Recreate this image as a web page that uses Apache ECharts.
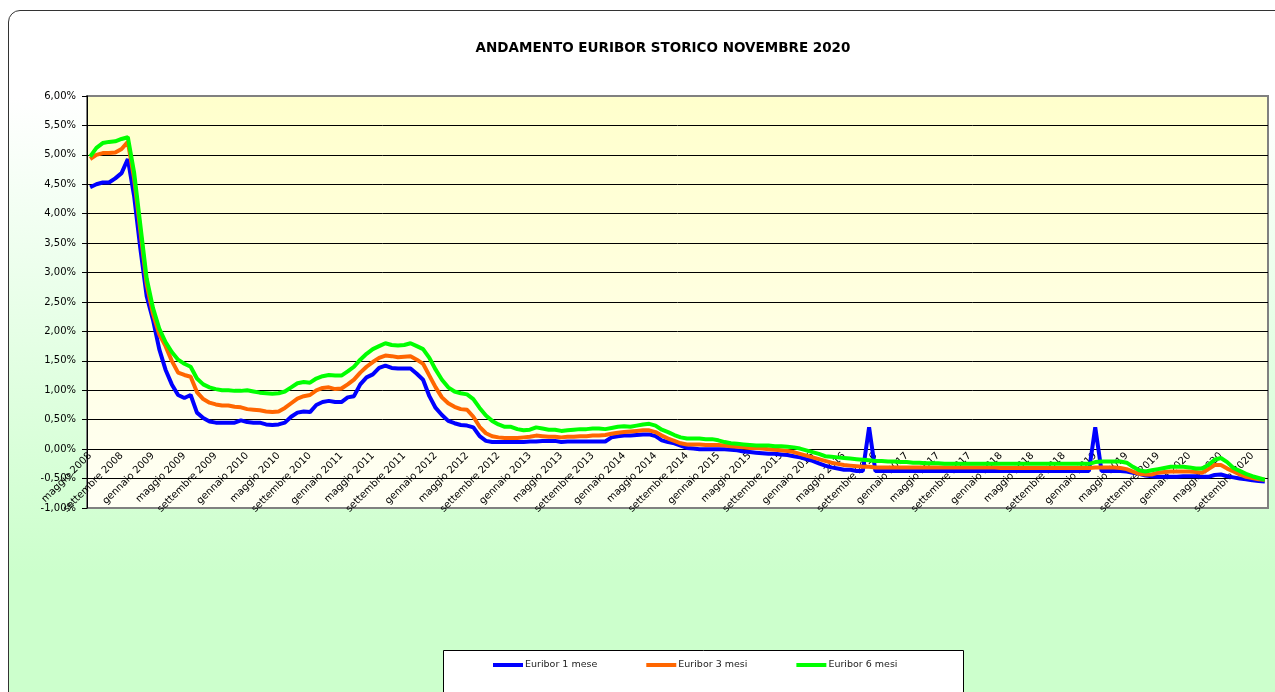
<!DOCTYPE html>
<html>
<head>
<meta charset="utf-8">
<title>Andamento Euribor storico</title>
<script src="https://cdn.jsdelivr.net/npm/echarts@6/dist/echarts.min.js"></script>
<style>
    html, body { margin: 0; padding: 0; width: 1275px; height: 692px; overflow: hidden; background: #ffffff; }
    #sfondo {
        position: absolute; left: 8px; top: 10px; width: 1300px; height: 720px;
        border: 1px solid #333333; border-radius: 12px;
        background: linear-gradient(to bottom, #ffffff 0%, #ffffff 12%, #ccffcc 78%, #ccffcc 100%);
    }
    #chart-container { position: absolute; left: 0; top: 0; width: 1275px; height: 692px; }
</style>
</head>
<body>
<div id="sfondo"></div>
<div id="chart-container"></div>
<script>
// etichette dell'asse x (una ogni 5 punti)
var tickLabels = [
    'maggio 2008', 'settembre 2008',
    'gennaio 2009', 'maggio 2009', 'settembre 2009',
    'gennaio 2010', 'maggio 2010', 'settembre 2010',
    'gennaio 2011', 'maggio 2011', 'settembre 2011',
    'gennaio 2012', 'maggio 2012', 'settembre 2012',
    'gennaio 2013', 'maggio 2013', 'settembre 2013',
    'gennaio 2014', 'maggio 2014', 'settembre 2014',
    'gennaio 2015', 'maggio 2015', 'settembre 2015',
    'gennaio 2016', 'maggio 2016', 'settembre 2016',
    'gennaio 2017', 'maggio 2017', 'settembre 2017',
    'gennaio 2018', 'maggio 2018', 'settembre 2018',
    'gennaio 2019', 'maggio 2019', 'settembre 2019',
    'gennaio 2020', 'maggio 2020', 'settembre 2020'
];
var seriesNames = ['Euribor 1 mese', 'Euribor 3 mesi', 'Euribor 6 mesi'];

var euribor1m = [
    4.45,4.50,4.53,4.53,4.60,4.69,4.93,4.30,3.40,2.60,
    2.20,1.70,1.35,1.10,0.92,0.87,0.92,0.62,0.53,0.47,
    0.45,0.45,0.45,0.45,0.49,0.46,0.45,0.45,0.42,0.41,
    0.42,0.45,0.55,0.62,0.64,0.63,0.75,0.80,0.82,0.80,
    0.80,0.88,0.90,1.10,1.22,1.27,1.38,1.42,1.38,1.37,
    1.37,1.37,1.28,1.18,0.90,0.70,0.58,0.48,0.44,0.41,
    0.40,0.37,0.22,0.14,0.12,0.12,0.12,0.12,0.12,0.12,
    0.13,0.13,0.14,0.14,0.14,0.12,0.13,0.13,0.13,0.13,
    0.13,0.13,0.13,0.20,0.22,0.23,0.23,0.24,0.25,0.25,
    0.22,0.15,0.12,0.10,0.06,0.02,0.01,0.00,0.00,0.00,
    0.00,0.00,-0.01,-0.02,-0.04,-0.05,-0.06,-0.07,-0.08,-0.08,
    -0.09,-0.10,-0.12,-0.14,-0.17,-0.20,-0.24,-0.28,-0.31,-0.33,
    -0.35,-0.35,-0.37,-0.37,0.37,-0.37,-0.37,-0.37,-0.37,-0.37,
    -0.37,-0.37,-0.37,-0.37,-0.37,-0.37,-0.37,-0.37,-0.37,-0.37,
    -0.37,-0.37,-0.37,-0.37,-0.37,-0.37,-0.37,-0.37,-0.37,-0.37,
    -0.37,-0.37,-0.37,-0.37,-0.37,-0.37,-0.37,-0.37,-0.37,-0.37,
    0.37,-0.37,-0.37,-0.37,-0.37,-0.38,-0.40,-0.42,-0.45,-0.46,
    -0.47,-0.47,-0.47,-0.47,-0.46,-0.46,-0.46,-0.47,-0.47,-0.44,
    -0.43,-0.46,-0.48,-0.50,-0.51,-0.53,-0.54,-0.55
];
var euribor3m = [
    4.93,5.00,5.03,5.03,5.04,5.10,5.22,4.60,3.70,2.80,
    2.30,1.95,1.75,1.50,1.30,1.26,1.23,0.97,0.85,0.79,
    0.76,0.74,0.74,0.72,0.71,0.68,0.67,0.66,0.64,0.63,
    0.64,0.70,0.78,0.86,0.90,0.92,1.00,1.04,1.05,1.02,
    1.03,1.10,1.18,1.30,1.40,1.48,1.55,1.59,1.58,1.56,
    1.57,1.58,1.52,1.45,1.25,1.05,0.88,0.78,0.72,0.68,
    0.67,0.55,0.38,0.27,0.22,0.20,0.19,0.19,0.19,0.20,
    0.21,0.23,0.22,0.21,0.21,0.20,0.21,0.21,0.22,0.22,
    0.23,0.23,0.24,0.26,0.28,0.29,0.30,0.31,0.32,0.32,
    0.29,0.23,0.18,0.14,0.10,0.08,0.08,0.08,0.07,0.07,
    0.07,0.06,0.05,0.04,0.03,0.02,0.02,0.01,0.00,-0.01,
    -0.02,-0.03,-0.05,-0.08,-0.11,-0.14,-0.17,-0.20,-0.23,-0.25,
    -0.27,-0.28,-0.29,-0.30,-0.30,-0.31,-0.31,-0.31,-0.31,-0.31,
    -0.31,-0.31,-0.31,-0.31,-0.31,-0.31,-0.31,-0.31,-0.31,-0.31,
    -0.31,-0.31,-0.31,-0.31,-0.31,-0.32,-0.32,-0.32,-0.32,-0.32,
    -0.32,-0.32,-0.32,-0.32,-0.32,-0.32,-0.32,-0.32,-0.32,-0.32,
    -0.31,-0.31,-0.31,-0.31,-0.32,-0.34,-0.38,-0.42,-0.43,-0.43,
    -0.40,-0.39,-0.38,-0.38,-0.38,-0.38,-0.39,-0.40,-0.34,-0.27,
    -0.27,-0.33,-0.38,-0.43,-0.47,-0.49,-0.51,-0.52
];
var euribor6m = [
    4.97,5.12,5.20,5.22,5.23,5.27,5.30,4.70,3.80,2.90,
    2.40,2.05,1.82,1.65,1.52,1.45,1.40,1.20,1.10,1.05,
    1.02,1.00,1.00,0.99,0.99,1.00,0.98,0.96,0.95,0.94,
    0.95,0.98,1.05,1.12,1.14,1.13,1.20,1.24,1.26,1.25,
    1.25,1.32,1.40,1.52,1.62,1.70,1.75,1.80,1.77,1.76,
    1.77,1.80,1.75,1.70,1.55,1.35,1.18,1.05,0.98,0.95,
    0.93,0.85,0.70,0.57,0.48,0.42,0.38,0.38,0.34,0.32,
    0.33,0.37,0.35,0.33,0.33,0.31,0.32,0.33,0.34,0.34,
    0.35,0.35,0.34,0.36,0.38,0.39,0.38,0.40,0.42,0.43,
    0.40,0.33,0.29,0.24,0.20,0.18,0.18,0.18,0.17,0.17,
    0.15,0.12,0.10,0.09,0.08,0.07,0.06,0.06,0.06,0.05,
    0.05,0.04,0.03,0.01,-0.02,-0.05,-0.08,-0.12,-0.13,-0.14,
    -0.15,-0.16,-0.17,-0.18,-0.19,-0.20,-0.20,-0.21,-0.21,-0.22,
    -0.22,-0.23,-0.23,-0.24,-0.24,-0.24,-0.25,-0.25,-0.25,-0.25,
    -0.25,-0.25,-0.25,-0.25,-0.25,-0.25,-0.25,-0.25,-0.25,-0.25,
    -0.25,-0.25,-0.25,-0.25,-0.25,-0.25,-0.25,-0.25,-0.25,-0.25,
    -0.22,-0.21,-0.21,-0.21,-0.21,-0.23,-0.30,-0.36,-0.38,-0.36,
    -0.34,-0.32,-0.30,-0.30,-0.30,-0.31,-0.33,-0.33,-0.27,-0.18,
    -0.15,-0.22,-0.32,-0.37,-0.42,-0.46,-0.49,-0.52
];

// categorie: una etichetta ogni 5 punti
var categories = [];
for (var i = 0; i < euribor1m.length; i++) {
    categories.push(i % 5 === 0 ? tickLabels[i / 5] : '');
}

var fontAssi = 'DejaVu Sans';

var option = {
    animation: false,
    backgroundColor: 'transparent',
    title: {
        text: 'ANDAMENTO EURIBOR STORICO NOVEMBRE 2020',
        left: 658,
        top: 36,
        textAlign: 'center',
        textStyle: {
            fontFamily: fontAssi,
            fontSize: 13.5,
            fontWeight: 'bold',
            color: '#000000'
        }
    },
    // riquadro della legenda (tagliato in basso come nell'originale)
    graphic: [
        {
            type: 'rect',
            left: 443,
            top: 650,
            shape: { width: 520, height: 60 },
            style: { fill: '#ffffff', stroke: '#000000', lineWidth: 1 },
            z: 0
        }
    ],
    legend: {
        data: seriesNames,
        left: 493,
        top: 660,
        padding: 0,
        itemGap: 49,
        itemWidth: 30,
        itemHeight: 4,
        icon: 'rect',
        z: 5,
        textStyle: {
            fontFamily: fontAssi,
            fontSize: 9.5,
            color: '#222222',
            padding: [0, 0, 0, -3]
        }
    },
    grid: {
        left: 87,
        top: 96,
        right: 7,
        bottom: 184,
        show: true,
        borderColor: '#808080',
        borderWidth: 2,
        backgroundColor: new echarts.graphic.LinearGradient(0, 0, 0, 1, [
            { offset: 0, color: '#ffffcc' },
            { offset: 1, color: '#fffff4' }
        ])
    },
    xAxis: {
        type: 'category',
        data: categories,
        boundaryGap: true,
        position: 'bottom',
        offset: -58.9, // asse sullo zero
        axisLine: {
            onZero: false,
            lineStyle: { color: '#000000', width: 1 }
        },
        axisTick: {
            interval: 0,
            length: 4,
            lineStyle: { color: '#000000' }
        },
        axisLabel: {
            interval: 4,
            rotate: 45,
            margin: 5,
            fontFamily: fontAssi,
            fontSize: 10,
            color: '#000000'
        },
        splitLine: { show: false }
    },
    yAxis: {
        type: 'value',
        min: -1,
        max: 6,
        interval: 0.5,
        axisLine: {
            show: true,
            lineStyle: { color: '#000000', width: 1 }
        },
        axisTick: {
            show: true,
            length: 5,
            lineStyle: { color: '#000000' }
        },
        axisLabel: {
            margin: 11,
            fontFamily: fontAssi,
            fontSize: 10,
            color: '#000000',
            formatter: function (v) {
                return v.toFixed(2).replace('.', ',') + '%';
            }
        },
        splitLine: {
            show: true,
            showMinLine: false,
            showMaxLine: false,
            lineStyle: { color: '#000000', width: 1 }
        }
    },
    series: [
        {
            name: seriesNames[0],
            type: 'line',
            data: euribor1m,
            symbol: 'none',
            color: '#0000ff',
            lineStyle: { width: 4, color: '#0000ff' }
        },
        {
            name: seriesNames[1],
            type: 'line',
            data: euribor3m,
            symbol: 'none',
            color: '#ff6600',
            lineStyle: { width: 4, color: '#ff6600' }
        },
        {
            name: seriesNames[2],
            type: 'line',
            data: euribor6m,
            symbol: 'none',
            color: '#00ff00',
            lineStyle: { width: 4, color: '#00ff00' }
        }
    ]
};

var myChart = echarts.init(document.getElementById('chart-container'));
myChart.setOption(option);
</script>
</body>
</html>
